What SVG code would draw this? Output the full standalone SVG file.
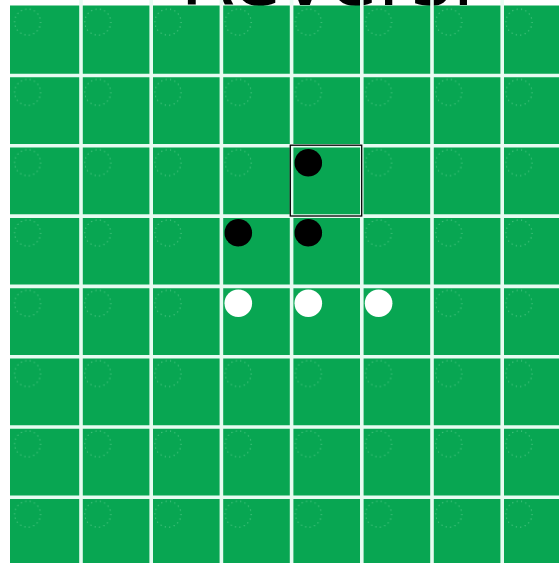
<svg xmlns="http://www.w3.org/2000/svg" width="559" height="563" viewBox="0 0 559 563">
  <style>
    .grid { stroke: #e6fbf1; stroke-width: 3.6; }
    .black { fill: #000000; }
    .white { fill: #ffffff; }
    .title { font-family: "DejaVu Sans", sans-serif; font-size: 80px; fill: #000000; }
  </style>
  <defs>
    <pattern id="dots" patternUnits="userSpaceOnUse" x="10.8" y="5.2" width="70.2" height="70.3">
      <circle cx="16.8" cy="16.9" r="13" fill="none" stroke="#7fdca6" stroke-width="1" stroke-dasharray="1 3.5" opacity="0.7"/>
    </pattern>
  </defs>
  <rect x="0" y="0" width="559" height="563" fill="#ffffff"/>
  <g id="title">
    <text class="title" x="180" y="5">Reversi</text>
  </g>
  <g id="board">
    <rect x="10" y="5.5" width="549" height="557.5" fill="#08a652"/>
    <rect x="10" y="5.5" width="549" height="557.5" fill="url(#dots)"/>
    <g class="grid">
      <line x1="81" y1="0" x2="81" y2="563"/>
      <line x1="151.2" y1="0" x2="151.2" y2="563"/>
      <line x1="221.4" y1="0" x2="221.4" y2="563"/>
      <line x1="291.6" y1="0" x2="291.6" y2="563"/>
      <line x1="361.8" y1="0" x2="361.8" y2="563"/>
      <line x1="432" y1="0" x2="432" y2="563"/>
      <line x1="502.2" y1="0" x2="502.2" y2="563"/>
      <line x1="0" y1="75.5" x2="559" y2="75.5"/>
      <line x1="0" y1="145.8" x2="559" y2="145.8"/>
      <line x1="0" y1="216.1" x2="559" y2="216.1"/>
      <line x1="0" y1="286.4" x2="559" y2="286.4"/>
      <line x1="0" y1="356.7" x2="559" y2="356.7"/>
      <line x1="0" y1="427" x2="559" y2="427"/>
      <line x1="0" y1="497.3" x2="559" y2="497.3"/>
    </g>
    <rect x="0" y="0" width="10" height="563" fill="#ffffff"/>
    <rect x="0" y="0" width="559" height="5.5" fill="#ffffff" opacity="0"/>
  </g>
  <g id="selected">
    <rect x="290.3" y="145.2" width="71.4" height="70.8" fill="none" stroke="#000000" stroke-width="1.3"/>
  </g>
  <g id="discs">
    <circle class="black" cx="308.3" cy="162.7" r="13.8"/>
    <circle class="black" cx="238.3" cy="232.7" r="13.8"/>
    <circle class="black" cx="308.3" cy="232.7" r="13.8"/>
    <circle class="white" cx="238.3" cy="303.3" r="13.8"/>
    <circle class="white" cx="308.3" cy="303.3" r="13.8"/>
    <circle class="white" cx="378.6" cy="303.3" r="13.8"/>
  </g>
</svg>
